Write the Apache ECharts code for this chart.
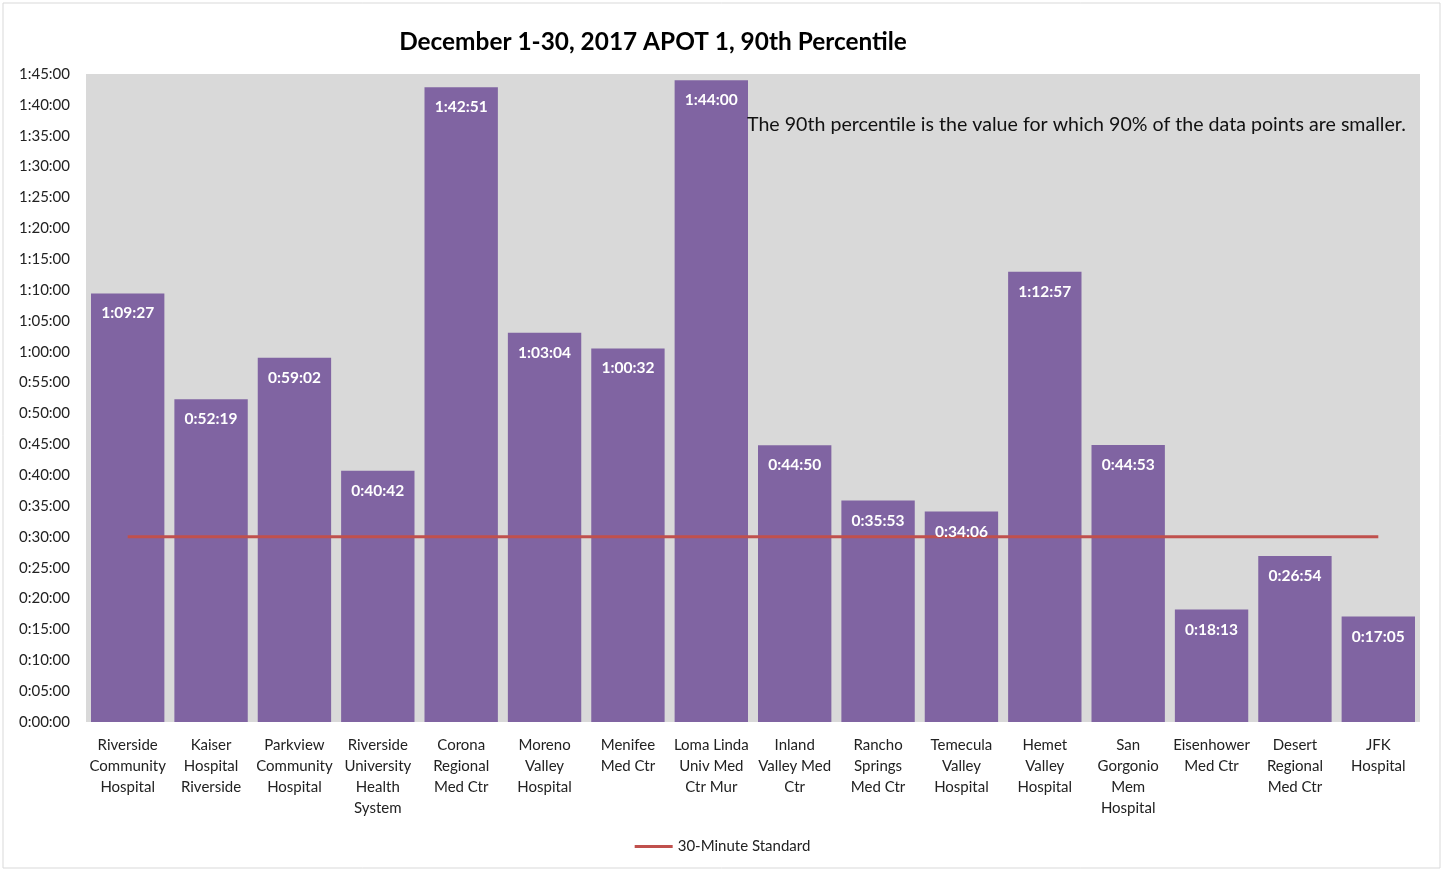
<!DOCTYPE html>
<html><head><meta charset="utf-8">
<script src="https://cdn.jsdelivr.net/npm/echarts@6/dist/echarts.min.js"></script>
<style>html,body{margin:0;padding:0;background:#fff}#c{width:1445px;height:871px}</style>
</head><body><div id="c"></div>
<script>
const categories = [
  "Riverside\nCommunity\nHospital","Kaiser\nHospital\nRiverside","Parkview\nCommunity\nHospital",
  "Riverside\nUniversity\nHealth\nSystem","Corona\nRegional\nMed Ctr","Moreno\nValley\nHospital",
  "Menifee\nMed Ctr","Loma Linda\nUniv Med\nCtr Mur","Inland\nValley Med\nCtr",
  "Rancho\nSprings\nMed Ctr","Temecula\nValley\nHospital","Hemet\nValley\nHospital",
  "San\nGorgonio\nMem\nHospital","Eisenhower\nMed Ctr","Desert\nRegional\nMed Ctr","JFK\nHospital"
];
const percentile90 = ["1:09:27","0:52:19","0:59:02","0:40:42","1:42:51","1:03:04","1:00:32","1:44:00",
  "0:44:50","0:35:53","0:34:06","1:12:57","0:44:53","0:18:13","0:26:54","0:17:05"];
const standard = categories.map(() => "0:30:00");
const toSec = s => { const p = s.split(':').map(Number); return p[0]*3600 + p[1]*60 + p[2]; };
const fmt = v => { v = Math.round(v); const h = Math.floor(v/3600), m = Math.floor((v%3600)/60), s = v%60;
  return h + ':' + String(m).padStart(2,'0') + ':' + String(s).padStart(2,'0'); };
const FONT = 'Lato';
const chart = echarts.init(document.getElementById('c'));
chart.setOption({
  animation: false,
  textStyle: {fontFamily: FONT},
  title: {text: 'December 1-30, 2017 APOT 1, 90th Percentile', left: 648, textAlign: 'center', top: 25,
    textStyle: {fontFamily: FONT, fontSize: 24.4, fontWeight: 'bold', color: '#000'}},
  grid: {left: 86, right: 25, top: 74, bottom: 149, show: true, backgroundColor: '#d9d9d9', borderWidth: 0},
  legend: {bottom: 12, left: 'center', data: [{name: '30-Minute Standard', icon: 'rect'}], itemWidth: 38, itemHeight: 3,
    textStyle: {fontFamily: FONT, fontSize: 15, color: '#222'}},
  xAxis: {type: 'category', data: categories, axisLine: {show: false}, axisTick: {show: false},
    axisLabel: {interval: 0, fontFamily: FONT, fontSize: 15, color: '#222', lineHeight: 21, margin: 13}},
  yAxis: {type: 'value', min: 0, max: 6300, interval: 300, splitLine: {show: false},
    axisLine: {show: false}, axisTick: {show: false},
    axisLabel: {formatter: fmt, fontFamily: FONT, fontSize: 15, color: '#222', margin: 16}},
  graphic: [
    {type: 'rect', shape: {x: 3, y: 3, width: 1437, height: 865}, style: {fill: 'none', stroke: '#d9d9d9', lineWidth: 1}, z: -1},
    {type: 'text', left: 747, top: 115, style: {text: 'The 90th percentile is the value for which 90% of the data points are smaller.',
      font: '19.6px Lato', fill: '#111'}, z: 100}
  ],
  series: [
    {name: '90th Percentile', type: 'bar', data: percentile90.map(toSec), barCategoryGap: '12%',
      itemStyle: {color: '#8064a2'}, z: 2},
    {name: '30-Minute Standard', type: 'line', data: standard.map(toSec), symbol: 'none',
      lineStyle: {color: '#c0504d', width: 3}, itemStyle: {color: '#c0504d'}, z: 3},
    {name: 'labels', type: 'bar', data: percentile90.map(toSec), barCategoryGap: '12%', barGap: '-100%',
      itemStyle: {color: 'rgba(0,0,0,0)'}, z: 5, silent: true,
      label: {show: true, position: 'insideTop', distance: 12, formatter: p => fmt(p.value),
        color: '#fff', fontWeight: 'bold', fontSize: 15.5, fontFamily: FONT}}
  ]
});
</script></body></html>
